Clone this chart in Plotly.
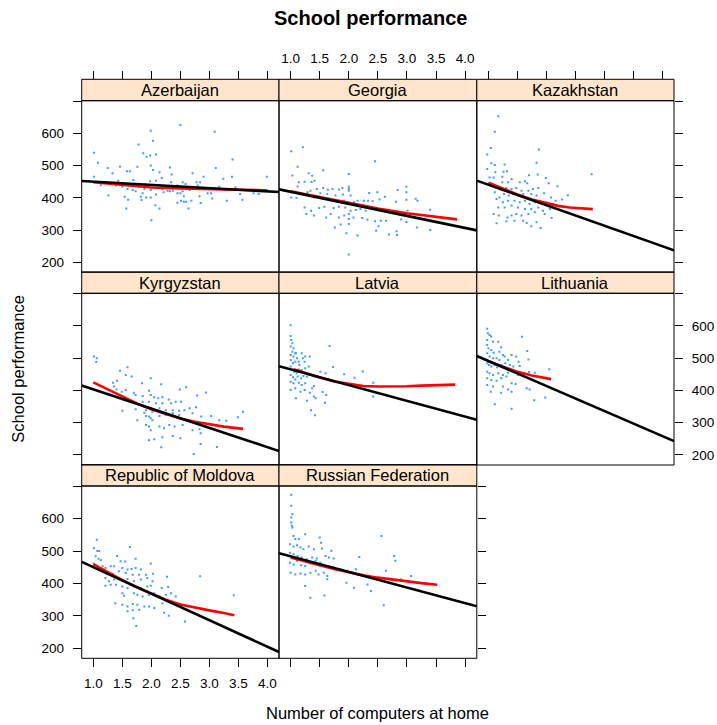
import numpy as np
import plotly.graph_objects as go

countries = ["Azerbaijan", "Georgia", "Kazakhstan", "Kyrgyzstan", "Latvia",
             "Lithuania", "Republic of Moldova", "Russian Federation"]
grid_pos = [(0, 0), (0, 1), (0, 2), (1, 0), (1, 1), (1, 2), (2, 0), (2, 1)]

x_range = [0.8, 4.2]
y_range = [169, 701]
x_ticks = [1.0, 1.5, 2.0, 2.5, 3.0, 3.5, 4.0]
y_ticks = [200, 300, 400, 500, 600, 700]
y_ticktext = ["200", "300", "400", "500", "600", ""]

# linear fit (intercept, slope) per country
fit_intercept = [460, 456, 504, 463, 514, 569, 532, 532]
fit_slope = [-10.0, -37.4, -63.5, -59.7, -48.8, -77.6, -81.8, -48.2]

# loess smooth per country
loess_x = [
    [1.0, 1.5, 2.0, 2.5, 3.0, 3.5, 4.0],
    [1.0, 1.5, 2.0, 2.5, 3.0, 3.5, 3.86],
    [1.0, 1.25, 1.5, 1.75, 2.0, 2.2, 2.4, 2.6, 2.8],
    [1.0, 1.25, 1.5, 1.75, 2.0, 2.25, 2.5, 2.75, 3.0, 3.25, 3.58],
    [1.05, 1.25, 1.5, 1.75, 2.0, 2.25, 2.5, 2.75, 3.0, 3.25, 3.5, 3.83],
    [1.0, 1.25, 1.5, 1.75, 2.0, 2.08],
    [1.0, 1.25, 1.5, 1.75, 2.0, 2.25, 2.5, 2.75, 3.0, 3.25, 3.43],
    [1.0, 1.25, 1.5, 1.75, 2.0, 2.25, 2.5, 2.75, 3.0, 3.25, 3.52],
]
loess_y = [
    [448, 440, 432, 429, 427, 425, 423],
    [420, 402, 384, 367, 352, 341, 333],
    [447, 428, 410, 395, 384, 375, 370, 367, 365],
    [425, 403, 380, 360, 342, 327, 313, 303, 295, 288, 281],
    [466, 454, 440, 428, 420, 414, 412, 412, 413, 415, 417, 418],
    [490, 474, 458, 446, 438, 435],
    [460, 435, 410, 388, 368, 350, 335, 325, 317, 309, 302],
    [480, 467, 456, 445, 434, 425, 418, 412, 406, 401, 396],
]

aze_pts = [(2.50,626),(1.99,608),(3.09,605),(2.03,577),(1.78,565),(1.01,540),(1.86,538),(1.98,531),(2.08,534),(1.92,527),
           (3.40,519),(1.08,509),(1.25,492),(1.46,496),(1.76,496),(1.99,500),(2.32,494),(3.11,492),(1.58,482),(1.63,482),
           (1.33,476),(2.03,486),(2.14,479),(2.71,476),(2.35,472),(1.01,465),(2.90,465),(2.18,461),(3.39,465),(3.24,459),
           (3.99,465),(1.43,453),(1.69,455),(1.98,451),(2.08,453),(2.34,448),(2.54,448),(2.78,448),(2.84,448),(2.59,443),
           (1.89,441),(1.13,439),(1.34,445),(1.39,438),(1.50,434),(1.62,443),(1.79,434),(2.02,438),(2.17,434),(2.45,438),
           (2.80,438),(3.17,434),(3.45,432),(1.59,427),(1.68,424),(1.88,427),(1.99,424),(2.19,427),(2.28,422),(2.37,422),
           (2.54,420),(2.66,424),(1.73,420),(1.85,414),(2.08,410),(2.21,417),(2.32,420),(2.45,414),(2.50,414),(2.97,414),
           (3.03,414),(3.53,412),(3.76,414),(3.85,412),(1.54,403),(1.82,403),(1.91,401),(1.99,401),(2.56,405),(2.83,405),
           (1.26,407),(1.60,394),(1.83,393),(3.05,398),(3.30,391),(3.57,394),(2.51,391),(2.45,385),(2.56,388),(2.60,388),
           (2.69,391),(2.85,384),(2.07,377),(1.57,367),(2.14,367),(2.64,367),(2.00,330)]

geo_pts = [(1.21,557),(1.01,544),(2.45,513),(1.12,496),(1.56,485),(1.31,476),(1.03,469),(1.37,468),(2.00,474),(1.24,450),
           (1.36,449),(1.41,453),(1.12,435),(1.14,448),(1.34,422),(1.45,427),(1.56,430),(1.64,425),(1.72,427),(1.83,426),
           (1.89,430),(2.00,434),(2.00,427),(2.00,422),(1.02,417),(1.17,412),(1.29,417),(1.51,414),(1.63,412),(1.77,407),
           (1.90,410),(2.03,407),(2.15,391),(2.26,391),(2.35,415),(2.49,417),(2.84,424),(2.99,434),(2.99,417),(1.01,401),
           (1.10,399),(1.40,401),(1.48,403),(1.69,396),(1.74,391),(1.92,391),(2.09,386),(2.33,391),(2.41,389),(2.53,395),
           (2.62,403),(2.81,388),(2.99,394),(3.15,397),(3.18,391),(1.24,370),(1.35,360),(1.49,368),(1.58,372),(1.74,368),
           (1.83,372),(1.94,370),(2.03,360),(2.12,362),(2.20,365),(2.29,360),(2.38,365),(2.55,360),(2.67,362),(3.01,360),
           (3.40,363),(1.27,350),(1.40,345),(1.61,339),(1.69,350),(1.83,339),(1.92,345),(2.00,350),(2.00,334),(2.00,319),
           (2.08,339),(2.23,337),(2.32,332),(2.45,327),(2.55,329),(2.64,329),(2.90,333),(2.99,325),(3.17,308),(3.40,300),
           (1.76,308),(1.86,317),(2.51,312),(2.47,298),(1.96,290),(2.15,283),(2.69,286),(2.82,296),(2.83,285),(2.00,224)]

kaz_pts = [(1.17,653),(1.11,605),(1.04,554),(1.87,550),(0.98,534),(1.83,509),(1.05,507),(1.11,502),(1.28,503),(0.98,489),
           (1.12,479),(1.26,481),(1.32,482),(1.70,470),(1.85,472),(1.99,461),(1.02,463),(1.09,463),(1.24,465),(1.40,458),
           (2.78,473),(1.24,448),(1.34,448),(1.54,448),(1.63,451),(1.67,445),(2.04,445),(2.19,436),(0.98,443),(1.17,432),
           (1.24,424),(1.31,430),(1.40,427),(1.48,430),(1.57,422),(1.69,422),(1.77,427),(1.86,430),(1.11,417),(1.19,401),
           (1.27,412),(1.35,407),(1.43,412),(1.51,407),(1.60,412),(1.74,412),(1.83,407),(1.96,414),(2.08,401),(2.16,391),
           (2.27,395),(2.37,408),(1.14,396),(1.25,386),(1.34,391),(1.45,391),(1.54,386),(1.63,391),(1.71,381),(1.80,386),
           (1.89,391),(2.00,386),(2.12,381),(1.17,370),(1.28,370),(1.40,376),(1.51,370),(1.63,365),(1.74,365),(1.86,370),
           (1.94,360),(2.06,365),(1.09,350),(1.18,345),(1.33,339),(1.40,345),(1.48,350),(1.57,345),(1.69,350),(1.80,355),
           (1.97,350),(2.09,337),(1.31,327),(1.45,329),(1.60,329),(1.14,321),(1.66,322),(1.83,324),(1.74,312),(1.90,306)]

kyr_pts = [(1.01,505),(1.06,500),(1.05,488),(1.59,472),(1.46,461),(1.66,443),(1.56,448),(1.99,438),(1.84,422),(2.17,419),
           (1.34,424),(1.41,430),(1.36,412),(1.40,403),(2.60,410),(2.49,403),(2.94,394),(1.49,396),(1.56,401),(1.70,393),
           (1.73,386),(1.85,383),(1.96,399),(1.99,386),(2.05,379),(2.12,376),(2.19,379),(2.30,372),(2.42,365),(2.51,365),
           (2.79,384),(1.85,365),(1.96,365),(2.08,360),(2.19,360),(2.34,360),(1.88,350),(1.91,339),(1.96,345),(2.02,334),
           (2.14,345),(2.25,339),(2.37,339),(2.48,337),(2.57,339),(2.66,345),(2.77,348),(1.73,342),(1.50,337),(1.76,308),
           (1.88,331),(1.91,321),(1.96,319),(1.99,314),(2.02,308),(2.14,321),(2.25,324),(2.37,329),(2.48,324),(2.71,329),
           (2.86,319),(3.03,321),(3.17,308),(3.29,306),(3.58,334),(3.49,317),(1.91,293),(1.96,288),(1.99,277),(2.14,288),
           (2.22,283),(2.31,293),(2.40,288),(2.54,293),(2.71,277),(2.83,280),(3.03,283),(1.96,246),(2.05,249),(2.19,255),
           (2.37,259),(2.50,252),(2.85,267),(2.17,224),(2.85,234),(3.13,225),(2.73,203)]

lat_pts = [(1.00,602),(1.00,569),(1.01,556),(1.03,546),(1.00,536),(1.05,531),(1.03,520),(1.08,515),(1.00,510),(1.05,505),
           (1.09,515),(1.11,500),(1.19,515),(1.25,505),(1.33,505),(1.67,538),(1.00,494),(1.04,484),(1.08,489),(1.14,489),
           (1.15,479),(1.21,500),(1.24,489),(1.00,474),(1.03,465),(1.06,458),(1.10,453),(1.14,465),(1.19,463),(1.25,469),
           (1.31,474),(1.73,473),(1.00,448),(1.04,441),(1.08,434),(1.12,443),(1.18,438),(1.22,445),(1.28,443),(1.34,448),
           (1.40,443),(1.51,458),(1.60,453),(1.92,450),(2.24,459),(2.10,439),(2.42,424),(1.00,427),(1.05,422),(1.14,424),
           (1.19,417),(1.25,422),(1.40,414),(1.00,401),(1.08,407),(1.17,396),(1.24,401),(1.33,393),(1.37,407),(1.40,381),
           (1.55,395),(1.61,386),(1.09,376),(1.28,368),(1.43,376),(1.59,362),(1.35,339),(1.42,323),(2.42,381)]

lit_pts = [(0.98,591),(0.99,577),(1.02,572),(1.05,567),(0.98,556),(1.08,551),(1.17,551),(1.58,566),(1.22,534),(0.98,541),
           (1.00,531),(1.05,525),(1.09,517),(1.19,520),(1.25,510),(1.40,510),(0.98,515),(1.02,505),(1.08,500),(1.14,500),
           (1.19,494),(1.28,505),(1.34,494),(1.48,505),(1.52,489),(1.67,522),(1.69,496),(0.98,484),(1.01,479),(1.05,474),
           (1.11,479),(1.15,472),(1.22,479),(1.29,484),(1.37,479),(1.43,474),(1.54,476),(1.70,457),(1.80,455),(2.05,466),
           (0.98,458),(1.02,453),(1.08,448),(1.17,453),(1.25,448),(1.34,455),(1.45,458),(1.51,448),(0.98,438),(1.05,432),
           (1.14,430),(1.22,438),(1.31,443),(1.40,422),(1.47,420),(0.98,417),(1.08,412),(1.25,412),(1.34,403),(1.66,407),
           (1.71,403),(1.04,396),(1.22,393),(1.40,396),(1.79,370),(1.98,378),(1.11,357),(1.40,343)]

mol_pts = [(1.06,535),(1.63,513),(1.01,509),(1.07,500),(1.10,500),(1.04,484),(1.09,476),(1.13,472),(1.41,485),(1.47,469),
           (1.55,468),(1.73,476),(1.99,462),(1.01,461),(1.07,453),(1.16,453),(1.21,448),(1.30,453),(1.36,453),(1.50,448),
           (1.59,443),(1.66,445),(1.73,448),(1.82,443),(1.24,430),(1.33,430),(1.44,438),(1.56,432),(1.68,427),(1.79,427),
           (1.91,427),(2.03,430),(2.27,421),(2.84,422),(1.21,417),(1.27,407),(1.36,412),(1.47,410),(1.59,414),(1.70,407),
           (1.82,412),(1.93,417),(2.02,407),(1.21,393),(1.30,396),(1.39,396),(1.50,391),(1.59,386),(1.70,391),(1.82,386),
           (1.93,391),(1.99,393),(2.18,386),(2.29,389),(1.50,370),(1.53,362),(1.70,370),(1.76,365),(1.85,360),(1.96,365),
           (2.05,370),(2.14,360),(2.25,365),(2.34,370),(2.42,360),(3.42,364),(1.38,339),(1.50,334),(1.59,329),(1.68,337),
           (1.76,334),(1.88,329),(1.96,329),(2.05,324),(2.19,339),(2.28,345),(2.37,342),(1.59,314),(1.68,317),(1.79,319),
           (2.22,310),(2.30,300),(1.69,293),(1.74,269),(2.58,283)]

rus_pts = [(1.01,674),(1.01,640),(1.03,614),(1.01,604),(1.01,588),(1.02,578),(1.03,573),(1.05,547),(1.08,537),(1.14,537),
           (1.25,552),(1.50,542),(1.52,526),(1.70,501),(2.56,547),(2.78,485),(2.80,470),(2.18,482),(0.99,521),(1.05,514),
           (1.11,518),(1.17,511),(1.22,506),(1.31,514),(1.40,506),(1.54,508),(1.60,485),(1.66,480),(1.74,477),(0.99,495),
           (1.05,490),(1.12,485),(1.19,480),(1.28,475),(1.37,480),(1.45,477),(0.99,464),(1.05,459),(1.11,470),(1.18,456),
           (1.25,454),(1.34,462),(1.43,470),(1.51,464),(1.00,433),(1.08,428),(1.17,431),(1.25,428),(1.34,433),(1.43,439),
           (1.48,428),(1.57,433),(1.63,423),(1.74,449),(1.86,444),(1.97,439),(2.12,444),(1.25,392),(1.34,356),(1.58,363),
           (1.63,413),(1.96,402),(2.09,387),(2.32,397),(2.38,377),(2.64,439),(2.60,333),(2.90,413),(3.07,423)]

points = [aze_pts, geo_pts, kaz_pts, kyr_pts, lat_pts, lit_pts, mol_pts, rus_pts]

# ---- layout geometry (paper fractions) ----
W, H = 717, 725
col_dom = [[81.7 / W, 279.0 / W], [279.0 / W, 476.8 / W], [476.8 / W, 674.0 / W]]
row_px = [(100.7, 272.3), (293.3, 465.0), (486.0, 658.3)]
row_dom = [[1 - b / H, 1 - t / H] for (t, b) in row_px]
strip_px = 21.4
top_axis_pos = 1 - 79.3 / H

FONT = "Liberation Sans, Arial, sans-serif"
fig = go.Figure()
layout = dict(width=W, height=H, margin=dict(l=0, r=0, t=0, b=0),
              paper_bgcolor="white", plot_bgcolor="white", showlegend=False,
              font=dict(family=FONT, color="black"))
shapes, annotations = [], []

for i, name in enumerate(countries):
    r, c = grid_pos[i]
    n = i + 1
    xid = "x" if n == 1 else f"x{n}"
    yid = "y" if n == 1 else f"y{n}"
    xkey = "xaxis" if n == 1 else f"xaxis{n}"
    ykey = "yaxis" if n == 1 else f"yaxis{n}"

    pts = points[i]
    fig.add_trace(go.Scatter(x=[p[0] for p in pts], y=[p[1] for p in pts], mode="markers",
                             marker=dict(size=2, color="#3d9bff", symbol="square", line=dict(width=0)),
                             xaxis=xid, yaxis=yid, hoverinfo="skip"))
    fig.add_trace(go.Scatter(x=loess_x[i], y=loess_y[i], mode="lines",
                             line=dict(color="#ff0000", width=2.6), xaxis=xid, yaxis=yid))
    xs = np.array(x_range)
    fig.add_trace(go.Scatter(x=xs, y=fit_intercept[i] + fit_slope[i] * xs, mode="lines",
                             line=dict(color="black", width=2.6), xaxis=xid, yaxis=yid))

    xa = dict(domain=col_dom[c], range=x_range, showgrid=False, zeroline=False, showline=False,
              tickvals=x_ticks, ticktext=[f"{v:.1f}" for v in x_ticks],
              tickfont=dict(size=13.5, family=FONT, color="black"),
              ticklen=8, tickwidth=1, tickcolor="black", ticks="", showticklabels=False)
    if r == 0:
        xa.update(anchor="free", position=top_axis_pos, side="top", ticks="outside",
                  showticklabels=(c == 1), ticklabelstandoff=3)
    elif r == 2:
        xa.update(anchor=yid, side="bottom", ticks="outside",
                  showticklabels=(c == 0), ticklabelstandoff=4)
    else:
        xa.update(anchor=yid)
    layout[xkey] = xa

    ya = dict(domain=row_dom[r], range=y_range, anchor=xid, showgrid=False, zeroline=False,
              showline=False, tickvals=y_ticks, ticktext=y_ticktext,
              tickfont=dict(size=13.5, family=FONT, color="black"),
              ticklen=8, tickwidth=1, tickcolor="black", ticks="", showticklabels=False)
    if c == 0:
        ya.update(side="left", ticks="outside", showticklabels=(r != 1), ticklabelstandoff=6)
    elif c == 2 or (r == 2 and c == 1):
        ya.update(side="right", ticks="outside", showticklabels=(r == 1), ticklabelstandoff=6)
    layout[ykey] = ya

    dref_x = f"{xid} domain"
    dref_y = f"{yid} domain"
    ph = row_px[r][1] - row_px[r][0]
    s_top = 1 + strip_px / ph
    shapes.append(dict(type="rect", xref=dref_x, yref=dref_y, x0=0, x1=1, y0=0, y1=1,
                       line=dict(color="black", width=1), fillcolor="rgba(0,0,0,0)", layer="above"))
    shapes.append(dict(type="rect", xref=dref_x, yref=dref_y, x0=0, x1=1, y0=1, y1=s_top,
                       line=dict(color="black", width=1), fillcolor="#ffe5cc", layer="below"))
    annotations.append(dict(xref=dref_x, yref=dref_y, x=0.5, y=(1 + s_top) / 2, text=name,
                            showarrow=False, xanchor="center", yanchor="middle",
                            font=dict(size=16.5, family=FONT, color="black")))

annotations.append(dict(xref="paper", yref="paper", x=370 / W, y=1 - 18 / H, text="<b>School performance</b>",
                        showarrow=False, xanchor="center", yanchor="middle",
                        font=dict(size=20, family=FONT, color="black")))
annotations.append(dict(xref="paper", yref="paper", x=377.8 / W, y=1 - 713 / H, text="Number of computers at home",
                        showarrow=False, xanchor="center", yanchor="middle",
                        font=dict(size=16.5, family=FONT, color="black")))
annotations.append(dict(xref="paper", yref="paper", x=18 / W, y=1 - 368.7 / H, text="School performance",
                        showarrow=False, xanchor="center", yanchor="middle", textangle=-90,
                        font=dict(size=16.5, family=FONT, color="black")))

layout["shapes"] = shapes
layout["annotations"] = annotations
fig.update_layout(**layout)
fig.write_html("out.html")
